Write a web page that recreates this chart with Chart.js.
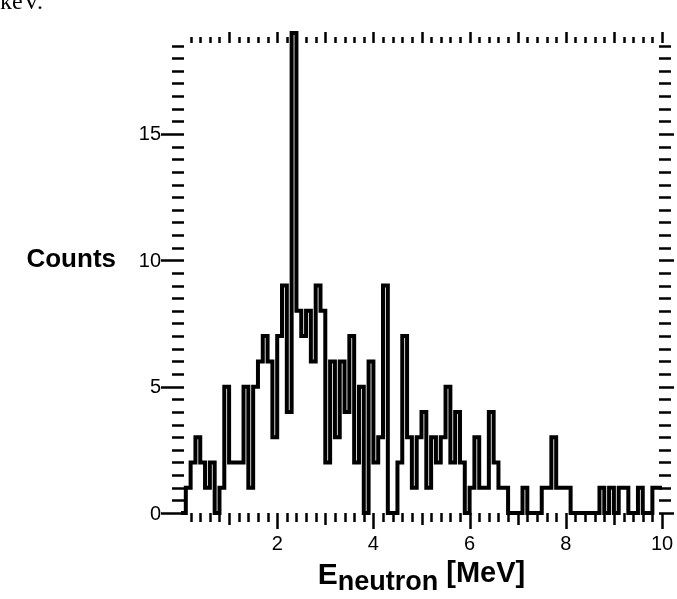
<!DOCTYPE html>
<html>
<head>
<meta charset="utf-8">
<title>Neutron energy spectrum</title>
<script src="https://cdn.jsdelivr.net/npm/chart.js@4.4.1/dist/chart.umd.min.js"></script>
<style>
  html, body { margin: 0; padding: 0; background: #fff; }
  #wrap { position: relative; width: 677px; height: 599px; }
</style>
</head>
<body>
<div id="wrap"><canvas id="chart" width="677" height="599"></canvas></div>
<script>
// histogram: 0.1 MeV bins from 0 to 10 MeV
const binStart = 0;
const binWidth = 0.1;
const counts = [
  0, 0, 1, 2, 3, 2, 1, 2, 0, 1,
  5, 2, 2, 2, 5, 1, 5, 6, 7, 6,
  3, 7, 9, 4, 19, 8, 7, 8, 6, 9,
  8, 2, 6, 3, 6, 4, 7, 2, 5, 0,
  6, 2, 3, 9, 0, 0, 2, 7, 3, 1,
  3, 4, 1, 3, 2, 3, 5, 2, 4, 2,
  0, 1, 3, 1, 1, 4, 2, 1, 1, 0,
  0, 0, 1, 0, 0, 0, 1, 1, 3, 1,
  1, 1, 0, 0, 0, 0, 0, 0, 1, 0,
  1, 0, 1, 1, 0, 0, 1, 0, 0, 1
];
const xTickLabels = [2, 4, 6, 8, 10];
const yTickLabels = [0, 5, 10, 15];
const xTitle = ['E', 'neutron', ' [MeV]'];
const yTitle = 'Counts';
const cornerText = 'keV.';

const FONT = '"Liberation Sans", Arial, sans-serif';

const stepPoints = counts.map((c, i) => ({ x: binStart + i * binWidth, y: c }));
stepPoints.push({ x: binStart + counts.length * binWidth, y: counts[counts.length - 1] });

const frameTicks = {
  id: 'frameTicks',
  afterDraw(chart) {
    const { ctx, chartArea: a, scales: { x, y } } = chart;
    ctx.save();
    ctx.strokeStyle = '#000';
    ctx.lineWidth = 2.5;
    ctx.beginPath();
    // bottom + top
    for (let k = 1; k <= 50; k++) {
      const v = k * 0.2;
      const px = Math.round(x.getPixelForValue(v)) + 0.5;
      const even = k % 10 === 0;
      const whole = k % 5 === 0;
      const lb = even ? 16 : (whole ? 12 : 9);
      ctx.moveTo(px, a.bottom);
      ctx.lineTo(px, a.bottom + lb);
      const lt = whole ? 11 : 6;
      ctx.moveTo(px, a.top);
      ctx.lineTo(px, a.top - lt);
    }
    // left + right
    for (let k = 0; k <= 37; k++) {
      const v = k * 0.5;
      const py = Math.round(y.getPixelForValue(v)) + 0.5;
      const major = k % 10 === 0;
      ctx.moveTo(a.left - (major ? 20 : 9), py);
      ctx.lineTo(a.left + 3, py);
      ctx.moveTo(a.right - 3, py);
      ctx.lineTo(a.right + (major ? 12 : 9), py);
    }
    ctx.stroke();

    // tick labels
    ctx.fillStyle = '#000';
    ctx.font = '20px ' + FONT;
    ctx.textAlign = 'center';
    ctx.textBaseline = 'middle';
    xTickLabels.forEach(v => ctx.fillText(String(v), x.getPixelForValue(v), a.bottom + 31));
    ctx.textAlign = 'right';
    yTickLabels.forEach(v => ctx.fillText(String(v), a.left - 20, y.getPixelForValue(v) + 1));

    // y title, horizontal
    ctx.font = 'bold 26px ' + FONT;
    ctx.textAlign = 'right';
    ctx.fillText(yTitle, 116, y.getPixelForValue(10));

    // x title with subscript
    ctx.textAlign = 'left';
    ctx.textBaseline = 'alphabetic';
    const parts = [
      { t: xTitle[0], f: 'bold 30px ' + FONT, dy: 0 },
      { t: xTitle[1], f: 'bold 27px ' + FONT, dy: 6 },
      { t: xTitle[2], f: 'bold 29px ' + FONT, dy: -2 }
    ];
    let total = 0;
    parts.forEach(p => { ctx.font = p.f; p.w = ctx.measureText(p.t).width; total += p.w; });
    let tx = (a.left + a.right) / 2 - total / 2;
    const base = 584;
    parts.forEach(p => {
      ctx.font = p.f;
      ctx.fillText(p.t, tx, base + p.dy);
      tx += p.w;
    });

    // clipped caption from the page above
    ctx.font = '24px "Liberation Serif", "Times New Roman", serif';
    ctx.fillText(cornerText, 0, 9);
    ctx.restore();
  }
};

new Chart(document.getElementById('chart').getContext('2d'), {
  type: 'line',
  data: {
    datasets: [{
      data: stepPoints,
      stepped: 'after',
      borderColor: '#000',
      borderWidth: 4,
      pointRadius: 0,
      fill: false,
      clip: false
    }]
  },
  options: {
    responsive: false,
    animation: false,
    events: [],
    layout: { padding: { left: 0, right: 15, top: 43, bottom: 0 } },
    plugins: { legend: { display: false }, tooltip: { enabled: false } },
    scales: {
      x: {
        type: 'linear', min: 0, max: 10,
        grid: { display: false },
        border: { display: false },
        ticks: { display: false },
        afterFit: s => { s.height = 86; }
      },
      y: {
        type: 'linear', min: 0, max: 18.6,
        grid: { display: false },
        border: { display: false },
        ticks: { display: false },
        afterFit: s => { s.width = 181; }
      }
    }
  },
  plugins: [frameTicks]
});
</script>
</body>
</html>
